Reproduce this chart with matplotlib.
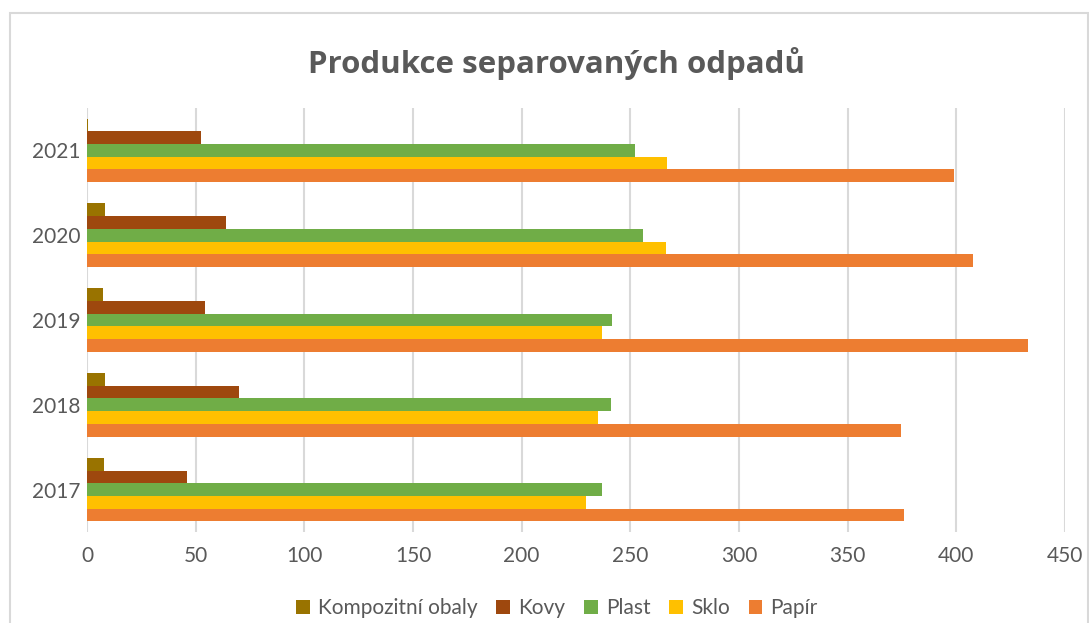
import numpy as np
import matplotlib
matplotlib.use('Agg')
import matplotlib.pyplot as plt
from matplotlib.patches import Rectangle

plt.rcParams['font.family'] = ['Lato', 'DejaVu Sans']

years = ['2017', '2018', '2019', '2020', '2021']
# series in drawing order (bottom of each group first)
papir = [376, 374.5, 433, 407.5, 399]
sklo = [229.5, 235, 237, 266.5, 267]
plast = [237, 241, 241.5, 256, 252]
kovy = [46, 70, 54.5, 64, 52.5]
kompozit = [7.7, 8.1, 7.2, 8.1, 0.5]

series = [
    ('Papír', papir, '#ED7D31'),
    ('Sklo', sklo, '#FFC000'),
    ('Plast', plast, '#70AD47'),
    ('Kovy', kovy, '#9E480E'),
    ('Kompozitní obaly', kompozit, '#997300'),
]

W, H = 1089, 623
fig = plt.figure(figsize=(W/100, H/100), dpi=100)
ax = fig.add_axes([87/W, 1-532/H, (1065-87)/W, (532-108)/H])

y = np.arange(len(years))
bh = 0.15
handles = {}
for i, (name, vals, col) in enumerate(series):
    b = ax.barh(y + (i-2)*bh, vals, height=bh, color=col, label=name, zorder=3)
    handles[name] = b

ax.set_xlim(0, 450)
ax.set_ylim(-0.5, 4.5)
ax.set_xticks(np.arange(0, 451, 50))
ax.set_yticks(y)
ax.set_yticklabels(years)
ax.xaxis.grid(True, color='#D9D9D9', linewidth=1.5, zorder=0)
for s in ax.spines.values():
    s.set_visible(False)
ax.tick_params(axis='both', length=0, labelsize=15, labelcolor='#595959')
ax.tick_params(axis='x', pad=10)
ax.tick_params(axis='y', pad=5)

fig.text(557/W, 1-63/H, 'Produkce separovaných odpadů', ha='center', va='center',
         fontsize=22.5, fontweight='bold', color='#595959', family=['Open Sans', 'DejaVu Sans'])

order = ['Kompozitní obaly', 'Kovy', 'Plast', 'Sklo', 'Papír']
fig.legend([handles[n] for n in order], order, loc='center', bbox_to_anchor=(557/W, 1-608/H),
           ncol=5, frameon=False, fontsize=15, handlelength=0.65, handleheight=0.65,
           handletextpad=0.4, columnspacing=0.9, labelcolor='#595959')

fig.patches.append(Rectangle((10/W, -0.01), (1088-10)/W, 1-13/H+0.01, transform=fig.transFigure,
                             fill=False, edgecolor='#D9D9D9', linewidth=1.5))

fig.savefig('out.png', dpi=100)
